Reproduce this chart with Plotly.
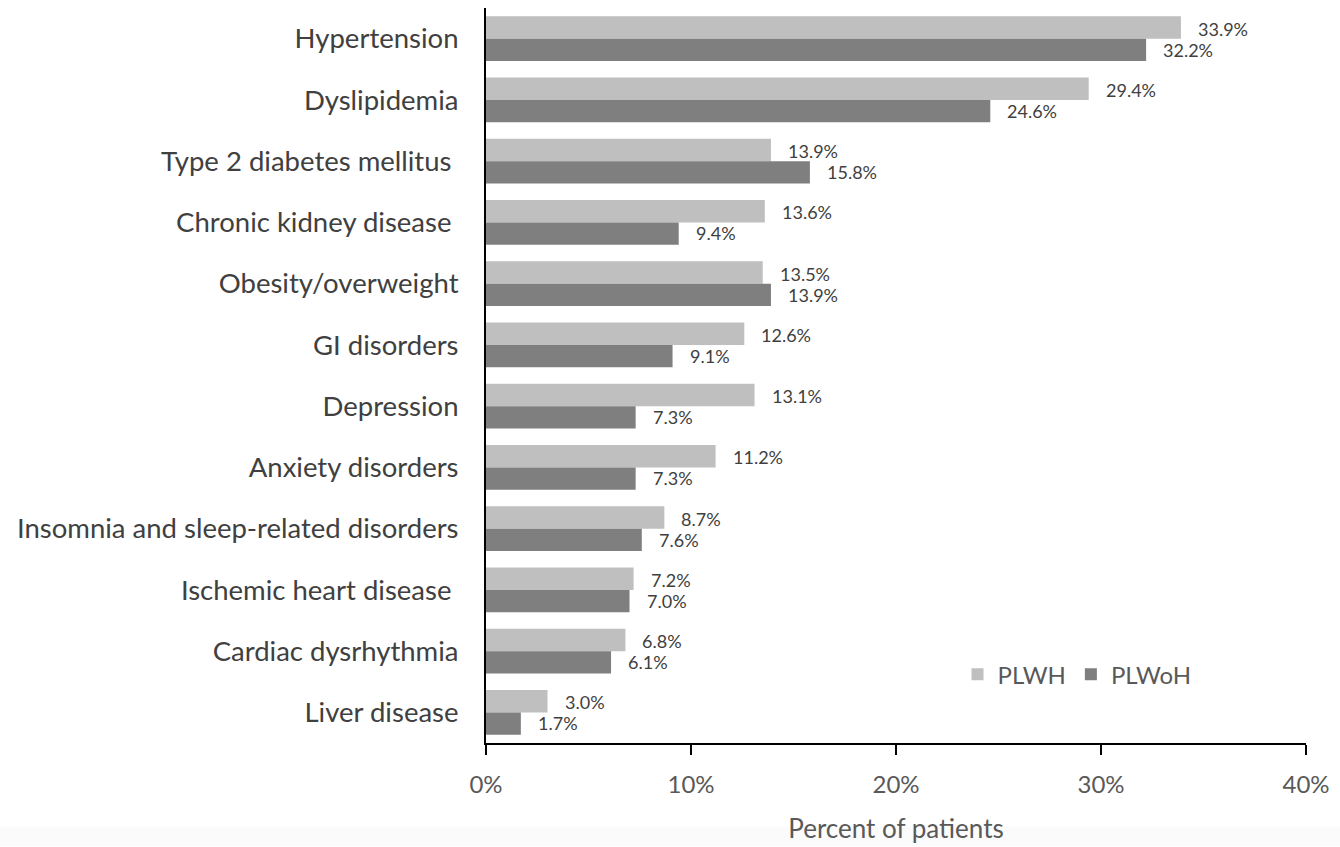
import plotly.graph_objects as go

# Comorbidity prevalence by HIV status
conditions = [
    "Hypertension",
    "Dyslipidemia",
    "Type 2 diabetes mellitus\u00a0",
    "Chronic kidney disease\u00a0",
    "Obesity/overweight",
    "GI disorders",
    "Depression",
    "Anxiety disorders",
    "Insomnia and sleep-related disorders",
    "Ischemic heart disease\u00a0",
    "Cardiac dysrhythmia",
    "Liver disease",
]
plwh = [33.9, 29.4, 13.9, 13.6, 13.5, 12.6, 13.1, 11.2, 8.7, 7.2, 6.8, 3.0]
plwoh = [32.2, 24.6, 15.8, 9.4, 13.9, 9.1, 7.3, 7.3, 7.6, 7.0, 6.1, 1.7]
x_ticks = [0, 10, 20, 30, 40]
x_tick_labels = ["0%", "10%", "20%", "30%", "40%"]

FONT = "Lato"
TEXT_DARK = "#404040"
TEXT_MID = "#595959"
LIGHT = "#bfbfbf"
DARK = "#7f7f7f"

fig = go.Figure()
fig.add_trace(go.Bar(y=conditions, x=plwh, orientation="h", name="PLWH",
                     marker=dict(color=LIGHT, line=dict(width=0)), hoverinfo="x+y"))
fig.add_trace(go.Bar(y=conditions, x=plwoh, orientation="h", name="PLWoH",
                     marker=dict(color=DARK, line=dict(width=0)), hoverinfo="x+y"))

# Value labels to the right of each bar (upper = PLWH, lower = PLWoH)
annotations = []
for cat, v in zip(conditions, plwh):
    annotations.append(dict(x=v, y=cat, xref="x", yref="y", text=f"{v:.1f}%",
                            showarrow=False, xanchor="left", xshift=15, yshift=10,
                            font=dict(family=FONT, size=18, color=TEXT_DARK)))
for cat, v in zip(conditions, plwoh):
    annotations.append(dict(x=v, y=cat, xref="x", yref="y", text=f"{v:.1f}%",
                            showarrow=False, xanchor="left", xshift=15, yshift=-11,
                            font=dict(family=FONT, size=18, color=TEXT_DARK)))

fig.update_layout(
    width=1340, height=847,
    margin=dict(l=486, r=34, t=8, b=101),
    paper_bgcolor="white", plot_bgcolor="white",
    barmode="group", bargap=0.27, bargroupgap=0,
    font=dict(family=FONT, color=TEXT_DARK),
    showlegend=True,
    legend=dict(orientation="h", x=0.575, y=0.093, xanchor="left", yanchor="middle",
                font=dict(family=FONT, size=24, color=TEXT_MID),
                bgcolor="rgba(0,0,0,0)", itemwidth=30, traceorder="normal"),
    annotations=annotations,
    shapes=[dict(type="rect", xref="paper", yref="paper", x0=-0.6, x1=1.05,
                 y0=-0.114, y1=-0.14, fillcolor="#fbfbfb", line=dict(width=0),
                 layer="below")],
)

fig.update_xaxes(
    range=[0, 40], tickvals=x_ticks, ticktext=x_tick_labels,
    showgrid=False, zeroline=False,
    showline=True, linecolor="black", linewidth=2,
    ticks="outside", ticklen=10, tickwidth=2, tickcolor="black",
    ticklabelstandoff=9,
    tickfont=dict(family=FONT, size=24, color=TEXT_MID),
    title=dict(text="Percent of patients", standoff=23,
               font=dict(family=FONT, size=26, color=TEXT_MID)),
)
fig.update_yaxes(
    autorange="reversed", showgrid=False, zeroline=False,
    showline=True, linecolor="black", linewidth=2,
    ticks="", ticklabelstandoff=20,
    tickfont=dict(family=FONT, size=27.5, color=TEXT_DARK),
)

fig.write_html("out.html")
